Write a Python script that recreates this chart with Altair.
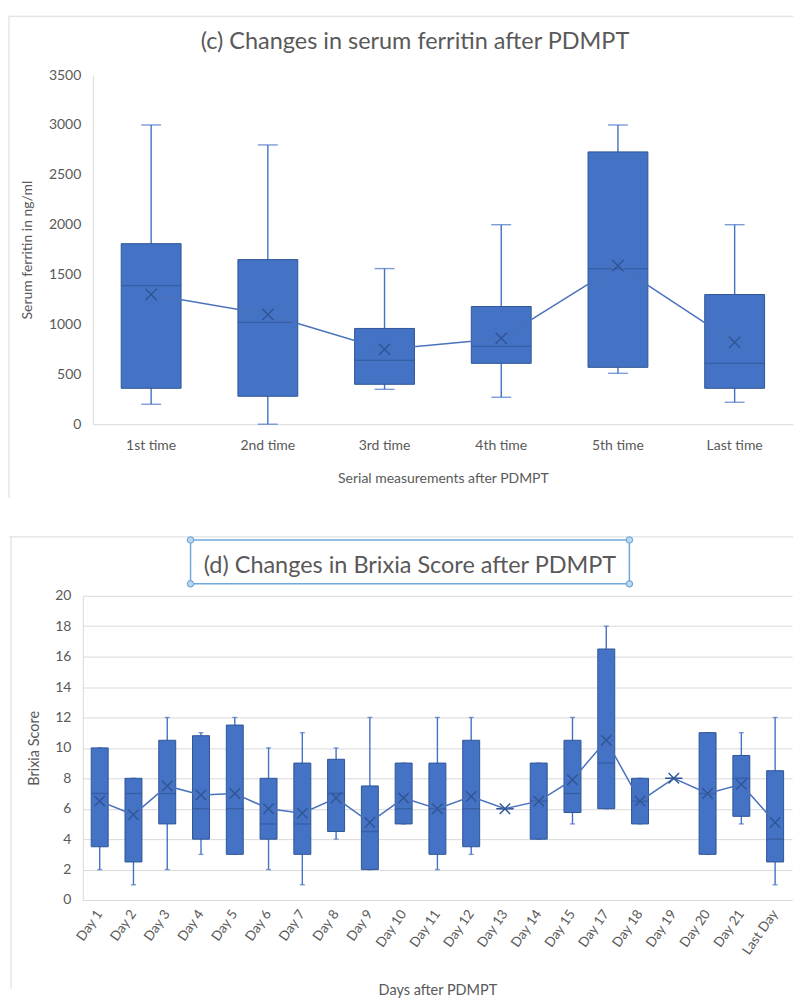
import altair as alt
import pandas as pd

# ---------------- (c) serum ferritin ----------------
ferr_cat = ["1st time", "2nd time", "3rd time", "4th time", "5th time", "Last time"]
ferr_min = [200, 0, 350, 270, 510, 220]
ferr_q1 = [360, 280, 400, 610, 570, 360]
ferr_med = [1390, 1020, 640, 780, 1560, 610]
ferr_q3 = [1810, 1650, 960, 1180, 2730, 1300]
ferr_max = [3000, 2800, 1560, 2000, 3000, 2000]
ferr_mean = [1300, 1100, 750, 860, 1590, 820]
ferr_ticks = [0, 500, 1000, 1500, 2000, 2500, 3000, 3500]

# ---------------- (d) Brixia score ----------------
days = ["Day 1", "Day 2", "Day 3", "Day 4", "Day 5", "Day 6", "Day 7", "Day 8",
        "Day 9", "Day 10", "Day 11", "Day 12", "Day 13", "Day 14", "Day 15",
        "Day 17", "Day 18", "Day 19", "Day 20", "Day 21", "Last Day"]
brix_min = [2, 1, 2, 3, 3, 2, 1, 4, 2, 5, 2, 3, 6, 4, 5, 6, 5, 8, 3, 5, 1]
brix_q1 = [3.5, 2.5, 5, 4, 3, 4, 3, 4.5, 2, 5, 3, 3.5, 6, 4, 5.75, 6, 5, 8, 3, 5.5, 2.5]
brix_med = [7, 7, 7, 6, 6, 5, 5, 7, 4.5, 6, 6, 6, 6, 6.5, 7, 9, 6.5, 8, 7, 8, 4]
brix_q3 = [10, 8, 10.5, 10.8, 11.5, 8, 9, 9.25, 7.5, 9, 9, 10.5, 6, 9, 10.5, 16.5, 8, 8, 11, 9.5, 8.5]
brix_max = [10, 8, 12, 11, 12, 10, 11, 10, 12, 9, 12, 12, 6, 9, 12, 18, 8, 8, 11, 11, 12]
brix_mean = [6.5, 5.6, 7.5, 6.9, 7, 6, 5.7, 6.7, 5.1, 6.7, 6, 6.8, 6, 6.5, 7.9, 10.5, 6.5, 8, 7, 7.6, 5.1]
brix_ticks = [0, 2, 4, 6, 8, 10, 12, 14, 16, 18, 20]

title_c = "(c) Changes in serum ferritin after PDMPT"
title_d = "(d) Changes in Brixia Score after PDMPT"

FILL = "#4472C4"
DARK = "#2F5597"
LINE = "#4A72BD"
TEXT = "#595959"
GRID = "#D9D9D9"
FRAME = "#6FA8DC"
FONT = "Lato"
XPATH = "M-1,-1L1,1M-1,1L1,-1"

one = pd.DataFrame({"k": [0]})


def box_chart(cats, lo, q1, med, q3, hi, mean, ymax, ytitle, xtitle,
              xrange, box_w, cap_w, x_size, xaxis, yaxis):
    df = pd.DataFrame({"cat": cats, "lo": lo, "q1": q1, "med": med,
                       "q3": q3, "hi": hi, "mean": mean})
    xenc = alt.X("cat:N", sort=cats, title=xtitle,
                 scale=alt.Scale(paddingInner=0, paddingOuter=0, range=xrange),
                 axis=xaxis)
    ysc = alt.Scale(domain=[0, ymax], nice=False, zero=True)

    def Y(f):
        return alt.Y(f, scale=ysc, title=ytitle, axis=yaxis)

    base = alt.Chart(df).encode(x=xenc)
    whisk = base.mark_rule(color=FILL, strokeWidth=1.4).encode(y=Y("lo:Q"), y2="hi:Q")
    cap_lo = base.mark_tick(color=FILL, size=cap_w, thickness=1.4).encode(y=Y("lo:Q"))
    cap_hi = base.mark_tick(color=FILL, size=cap_w, thickness=1.4).encode(y=Y("hi:Q"))
    box = base.mark_bar(size=box_w, color=FILL, stroke=DARK, strokeWidth=1).encode(
        y=Y("q1:Q"), y2="q3:Q")
    medt = base.mark_tick(color=DARK, size=box_w, thickness=1.3).encode(y=Y("med:Q"))
    mline = base.mark_line(color=LINE, strokeWidth=1.5).encode(y=Y("mean:Q"))
    mpt = base.mark_point(shape=XPATH, size=x_size, filled=False, color=DARK,
                          strokeWidth=1.4, opacity=1).encode(y=Y("mean:Q"))
    return [whisk, cap_lo, cap_hi, box, medt, mline, mpt]


# common plot origin (page x = 82); top plot spans page 92..794
# ---------------- top chart ----------------
W1, H1 = 712, 350
top_layers = box_chart(
    ferr_cat, ferr_min, ferr_q1, ferr_med, ferr_q3, ferr_max, ferr_mean,
    3500, "Serum ferritin in ng/ml", "Serial measurements after PDMPT",
    [10, 712], 60, 20, 130,
    alt.Axis(labelAngle=0, labelFontSize=14, titleFontSize=14, labelPadding=14,
             titlePadding=19, domainColor=GRID, ticks=False, grid=False),
    alt.Axis(values=ferr_ticks, format="d", labelFontSize=14, titleFontSize=14,
             labelPadding=12, titlePadding=14, domainColor=GRID, ticks=False,
             grid=False, offset=-10),
)
top_border_v = alt.Chart(one).mark_rule(color=GRID, strokeWidth=1).encode(
    x=alt.value(-74), y=alt.value(-59), y2=alt.value(424))
top_border_h = alt.Chart(one).mark_rule(color=GRID, strokeWidth=1).encode(
    x=alt.value(-74), x2=alt.value(712), y=alt.value(-59))
top_title = alt.Chart(one).mark_text(font=FONT, fontSize=23.5, color=TEXT,
                                     align="center", baseline="middle").encode(
    x=alt.value(333), y=alt.value(-33), text=alt.value(title_c))
top = alt.layer(top_border_v, top_border_h, top_title, *top_layers).properties(
    width=W1, height=H1)

# ---------------- bottom chart ----------------
W2, H2 = 711, 305
bot_layers = box_chart(
    days, brix_min, brix_q1, brix_med, brix_q3, brix_max, brix_mean,
    20, "Brixia Score", "Days after PDMPT",
    [0, 711], 17, 5, 110,
    alt.Axis(labelAngle=-55, labelAlign="right", labelBaseline="middle",
             labelFontSize=13.5, titleFontSize=14.5, labelPadding=11,
             titlePadding=27, domainColor=GRID, ticks=False, grid=False),
    alt.Axis(values=brix_ticks, labelFontSize=14, titleFontSize=14.5, labelPadding=12,
             titlePadding=13, domainColor=GRID, ticks=False, grid=True,
             gridColor=GRID),
)
bot_border_v = alt.Chart(one).mark_rule(color=GRID, strokeWidth=1).encode(
    x=alt.value(-72), y=alt.value(-59), y2=alt.value(394))
bot_border_h = alt.Chart(one).mark_rule(color=GRID, strokeWidth=1).encode(
    x=alt.value(-74), x2=alt.value(712), y=alt.value(-59))
sel_rect = alt.Chart(one).mark_rect(fill="transparent", stroke=FRAME, strokeWidth=1.5).encode(
    x=alt.value(108), x2=alt.value(548), y=alt.value(-56), y2=alt.value(-12))
handles = []
for hx, hy in [(108, -56), (548, -56), (108, -12), (548, -12)]:
    handles.append(alt.Chart(one).mark_circle(size=40, color="#BDD7EE", stroke=FRAME,
                                              strokeWidth=1.2, opacity=1).encode(
        x=alt.value(hx), y=alt.value(hy)))
bot_title = alt.Chart(one).mark_text(font=FONT, fontSize=23.5, color=TEXT,
                                     align="center", baseline="middle").encode(
    x=alt.value(328), y=alt.value(-30), text=alt.value(title_d))
bottom = alt.layer(bot_border_v, bot_border_h, *bot_layers, sel_rect, *handles,
                   bot_title).properties(width=W2, height=H2)

chart = alt.vconcat(top, bottom, spacing=35).properties(
    padding={"left": 0, "top": 6, "right": 0, "bottom": 0},
    background="white",
).configure_view(strokeWidth=0).configure_axis(
    labelFont=FONT, titleFont=FONT, labelColor=TEXT, titleColor=TEXT,
    titleFontWeight="normal", labelOverlap=False, labelBound=False,
).configure_text(font=FONT)

chart.save("out.html", embed_options={"renderer": "svg", "actions": False})
